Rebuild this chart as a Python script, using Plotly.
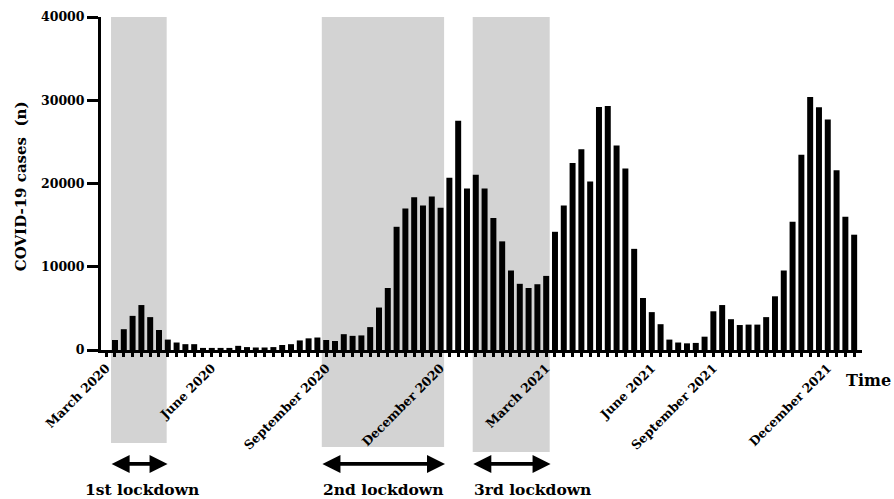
import plotly.graph_objects as go

# ---- data (weekly COVID-19 cases) ----
cases = [1200, 2500, 4100, 5400, 3950, 2400, 1250, 900, 700, 700,
         250, 250, 250, 250, 500, 350, 300, 300, 350, 600,
         700, 1150, 1400, 1500, 1200, 1080, 1900, 1700, 1750, 2750,
         5100, 7450, 14800, 17000, 18350, 17350, 18450, 17100, 20700, 27550,
         19400, 21050, 19400, 15850, 13050, 9550, 7950, 7450, 7900, 8900,
         14200, 17350, 22450, 24100, 20250, 29200, 29300, 24550, 21800, 12150,
         6250, 4550, 3100, 1250, 900, 800, 850, 1600, 4650, 5400,
         3700, 3000, 3050, 3050, 3950, 6450, 9550, 15400, 23450, 30400,
         29150, 27700, 21600, 16000, 13850]
week = list(range(len(cases)))

month_labels = ["March 2020", "June 2020", "September 2020", "December 2020",
                "March 2021", "June 2021", "September 2021", "December 2021"]
month_week = [-1, 11, 24, 37, 49, 61, 68, 81]

lockdown_names = ["1st lockdown", "2nd lockdown", "3rd lockdown"]
lockdown_start = [-0.45, 23.5, 40.65]
lockdown_end = [5.875, 37.4, 49.4]

y_ticks = [0, 10000, 20000, 30000, 40000]

# ---- styling / layout ----
FONT = "DejaVu Serif"
rect_bottom = [-0.279, -0.291, -0.306]
label_x = [3.07, 30.5, 47.4]
arrow_y = -0.342
label_y = -0.42

tick_vals = list(range(-1, len(cases)))
lab_map = dict(zip(month_week, month_labels))
tick_text = [lab_map.get(v, "") for v in tick_vals]

fig = go.Figure()
fig.add_trace(go.Bar(x=week, y=cases, width=0.68,
                     marker=dict(color="black", line=dict(width=0)),
                     hoverinfo="skip"))

shapes = []
annotations = []
for s, e, b in zip(lockdown_start, lockdown_end, rect_bottom):
    shapes.append(dict(type="rect", xref="x", yref="paper", x0=s, x1=e,
                       y0=b, y1=1, fillcolor="#d3d3d3",
                       line=dict(width=0), layer="below"))
for s, e, name, lx in zip(lockdown_start, lockdown_end, lockdown_names, label_x):
    annotations.append(dict(x=e + 0.1, y=arrow_y, xref="x", yref="paper",
                            ax=s - 0.1, ay=0, axref="x", ayref="pixel",
                            text="", showarrow=True, arrowside="end+start",
                            arrowhead=2, startarrowhead=2,
                            arrowsize=1.0, startarrowsize=1.0,
                            arrowwidth=3.6, arrowcolor="black", standoff=0,
                            startstandoff=0))
    annotations.append(dict(x=lx, y=label_y, xref="x", yref="paper",
                            text=name, showarrow=False,
                            font=dict(family=FONT, size=15.5, color="black",
                                      weight="bold"),
                            xanchor="center", yanchor="middle"))

annotations.append(dict(x=-0.105, y=0.492, xref="paper", yref="paper",
                        text="COVID-19 cases  (n)", textangle=-90,
                        showarrow=False, xanchor="center", yanchor="middle",
                        font=dict(family=FONT, size=15, color="black",
                                  weight="bold")))
annotations.append(dict(x=1.009, y=-0.093, xref="paper", yref="paper",
                        text="Time", showarrow=False,
                        xanchor="center", yanchor="middle",
                        font=dict(family=FONT, size=16, color="black",
                                  weight="bold")))

fig.update_layout(
    width=894, height=499,
    margin=dict(l=101, r=32, t=17, b=149),
    paper_bgcolor="white", plot_bgcolor="white",
    showlegend=False,
    shapes=shapes, annotations=annotations,
    font=dict(family=FONT, color="black"),
    xaxis=dict(range=[-1.59, 84.89], tickmode="array", tickvals=tick_vals,
               ticktext=tick_text, tickangle=-45, ticks="outside",
               ticklen=4, tickwidth=3, tickcolor="black",
               ticklabelstandoff=-1,
               showline=True, linewidth=3, linecolor="black",
               showgrid=False, zeroline=False, automargin=False,
               tickfont=dict(family=FONT, size=12.5, color="black",
                             weight="bold")),
    yaxis=dict(range=[0, 40000], tickmode="array", tickvals=y_ticks,
               ticktext=[str(v) for v in y_ticks],
               ticks="outside", ticklen=11, tickwidth=3, tickcolor="black",
               showline=True, linewidth=3, linecolor="black",
               showgrid=False, zeroline=False, automargin=False,
               tickfont=dict(family=FONT, size=12.5, color="black",
                             weight="bold")),
)

fig.write_html(
    "out.html",
    config={"displayModeBar": False},
    post_script="document.body.style.margin='0';document.body.style.padding='0';"
                "document.documentElement.style.overflow='hidden';"
                "document.body.style.overflow='hidden';",
)
